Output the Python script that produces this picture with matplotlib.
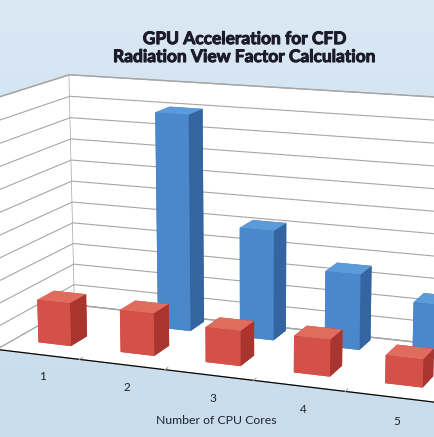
import matplotlib
matplotlib.use("Agg")
import matplotlib.pyplot as plt
import matplotlib.patheffects as pe
import numpy as np

# values (gridline units)
cores = [1, 2, 3, 4, 5]
cpu_time = [1.95, 1.9, 1.55, 1.6, 1.2]     # red, front row
gpu_time = [0.0, 9.9, 5.0, 3.4, 2.4]       # blue, back row (none for 1 core)
zgrid = list(range(0, 12))

title = "GPU Acceleration for CFD\nRadiation View Factor Calculation"
xlabel = "Number of CPU Cores"

# face colours: bottom, top, front(-y), back(+y), left(-x), right(+x)
red_faces = ["#c0433a", "#e06c5e", "#d4514a", "#c0433a", "#c0433a", "#a8352e"]
blue_faces = ["#3e78b8", "#5c9bd9", "#4a88cb", "#3e78b8", "#3e78b8", "#3565a0"]

fig = plt.figure(figsize=(4.35, 4.37), dpi=100)
fig.patch.set_facecolor("#d3e4f1")

# soft background gradient
bg = fig.add_axes([0, 0, 1, 1])
grad = np.linspace(0, 1, 256).reshape(-1, 1)
bg.imshow(grad, aspect="auto", cmap=matplotlib.colors.LinearSegmentedColormap.from_list(
    "bg", ["#dae8f4", "#c8dcec"]), extent=[0, 1, 0, 1])
bg.axis("off")

ax = fig.add_axes([-0.232, -0.19, 1.6, 1.3], projection="3d")
ax.set_facecolor("none")
ax.set_proj_type("persp", focal_length=0.6)
ax.view_init(elev=13.5, azim=-69)

w = 0.4
d = 0.4
for i, (c, g) in enumerate(zip(cpu_time, gpu_time)):
    if g > 0:
        ax.bar3d(i - w / 2, 1.4, 0, w, d, g, color=blue_faces, shade=False,
                 edgecolor="none")
for i, (c, g) in enumerate(zip(cpu_time, gpu_time)):
    ax.bar3d(i - w / 2, 0.4, 0, w, d, c, color=red_faces, shade=False,
             edgecolor="none")

ax.set_xlim(-0.5, 4.8)
ax.set_ylim(0, 1.9)
ax.set_zlim(0, 11)
ax.set_box_aspect((5.3, 1.9, 2.75), zoom=1.0)

for axis in (ax.xaxis, ax.yaxis, ax.zaxis):
    axis.set_pane_color("white")
    axis.pane.set_edgecolor("#a6a6a6")
    axis._axinfo["tick"]["inward_factor"] = 0
    axis._axinfo["tick"]["outward_factor"] = 0.5
    axis._axinfo["axisline"]["color"] = "#a6a6a6"
ax.xaxis._axinfo["grid"]["linewidth"] = 0
ax.yaxis._axinfo["grid"]["linewidth"] = 0
ax.zaxis._axinfo["grid"].update(color="#a6a6a6", linewidth=0.8)

ax.set_xticks([0.5, 1.5, 2.5, 3.5])
ax.set_xticklabels([])
ax.set_yticks([])
ax.set_zticks(zgrid)
ax.set_zticklabels([])
ax.tick_params(colors="#a6a6a6", width=0.8)

for i, n in enumerate(cores):
    ax.text(i + 0.05, 0, -1.0, str(n), fontsize=8.5, family="Lato",
            ha="center", va="center", color="#222222")

fig.text(0.563, 0.89, title, ha="center", va="center", fontsize=12.5,
         fontweight="bold", family="Lato", color="#1b1b2b", linespacing=1.15,
         path_effects=[pe.withStroke(linewidth=0.7, foreground="#1b1b2b")])
fig.text(0.497, 0.037, xlabel, ha="center", va="center", fontsize=8.8,
         family="Lato", color="#222233")

fig.savefig("out.png", dpi=100, facecolor=fig.get_facecolor())
